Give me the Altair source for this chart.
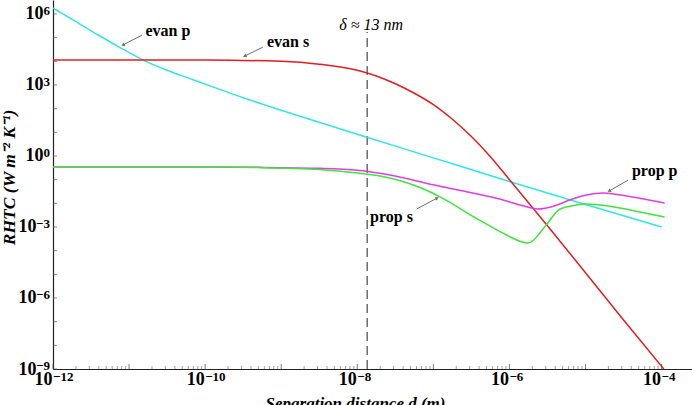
import altair as alt
import pandas as pd

# ---- data (log10 of values) ----
cyan_x = [-12, -11.7, -11.4, -11.1, -10.8, -10.5, -10.2, -9.9, -9.5, -9, -8, -7, -6, -5, -4]
cyan_y = [6.25, 5.68, 5.1, 4.55, 4.03, 3.62, 3.27, 2.92, 2.46, 1.93, 0.92, -0.08, -1.08, -2.05, -3.0]

red_x = [-12, -10, -9, -8.5, -8, -7.75, -7.5, -7.25, -7.0, -6.75, -6.5, -6.25, -6.0, -5.5, -5.0, -4.5, -3.97]
red_y = [4.05, 4.05, 4.0, 3.88, 3.62, 3.38, 3.05, 2.65, 2.17, 1.55, 0.82, -0.03, -1.0, -2.95, -4.93, -6.93, -9.0]

mag_x = [-12, -10, -9.3, -8.5, -8, -7.57, -7.0, -6.5, -6.13, -5.85, -5.63, -5.4, -5.2, -5.0, -4.77, -4.4, -3.96]
mag_y = [-0.47, -0.47, -0.48, -0.52, -0.6, -0.8, -1.22, -1.55, -1.82, -2.08, -2.24, -2.1, -1.85, -1.66, -1.56, -1.72, -1.99]

grn_x = [-12, -10, -9.3, -8.5, -8, -7.57, -7.09, -6.9, -6.4, -6.0, -5.85, -5.76, -5.68, -5.6, -5.5, -5.34, -5.17, -5.0, -4.68, -4.38, -3.96]
grn_y = [-0.47, -0.47, -0.49, -0.57, -0.72, -0.93, -1.45, -1.75, -2.7, -3.4, -3.62, -3.68, -3.55, -3.25, -2.85, -2.25, -2.1, -2.03, -2.12, -2.3, -2.58]

series_names = ["evan p", "evan s", "prop p", "prop s"]
series_colors = ["#2ee6e6", "#e41e1e", "#e43ce4", "#3ce63c"]

x_ticks = [-12, -10, -8, -6, -4]
y_ticks = [-9, -6, -3, 0, 3, 6]
x_decades = [-12, -11, -10, -9, -8, -7, -6, -5, -4]
minor_mult = [2, 3, 4, 5, 6, 7, 8, 9]
y_decades = list(range(-9, 7))

delta_x = 1.35e-8

# annotations: label, text position (log10), arrow start/end (log10), arrow angle
ann_label = ["evan p", "evan s", "prop s", "prop p"]
ann_tx = [-10.49, -8.91, -7.55, -4.09]
ann_ty = [5.28, 4.82, -2.58, -0.64]
arr_x1 = [-10.83, -9.24, -7.22, -4.44]
arr_y1 = [5.11, 4.60, -2.24, -1.02]
arr_x2 = [-11.08, -9.48, -6.95, -4.69]
arr_y2 = [4.69, 4.22, -1.78, -1.48]
arr_ang = [242, 243, 61, 240]

# ---- build tables ----
rows = []
for name, xs_, ys_ in zip(series_names, [cyan_x, red_x, mag_x, grn_x], [cyan_y, red_y, mag_y, grn_y]):
    for a, b in zip(xs_, ys_):
        rows.append({"series": name, "x": 10 ** a, "y": 10 ** b})
df = pd.DataFrame(rows)

ann = pd.DataFrame({
    "label": ann_label,
    "x": [10 ** v for v in ann_tx],
    "y": [10 ** v for v in ann_ty],
    "x1": [10 ** v for v in arr_x1],
    "y1": [10 ** v for v in arr_y1],
    "x2": [10 ** v for v in arr_x2],
    "y2": [10 ** v for v in arr_y2],
    "angle": arr_ang,
})

YMIN = 1e-9
XMIN = 1e-12


def exp_text(e):
    return str(e).replace("-", "\u2212")


xexp = pd.DataFrame({"x": [10.0 ** e for e in x_ticks], "y": [YMIN] * len(x_ticks),
                     "t": [exp_text(e) for e in x_ticks]})
yexp = pd.DataFrame({"x": [XMIN] * len(y_ticks), "y": [10.0 ** e for e in y_ticks],
                     "t": [exp_text(e) for e in y_ticks]})

xmaj = pd.DataFrame({"x": [10.0 ** e for e in x_decades], "y": [YMIN] * len(x_decades)})
xmin_vals = [m * 10.0 ** e for e in x_decades[:-1] for m in minor_mult]
xmin = pd.DataFrame({"x": xmin_vals, "y": [YMIN] * len(xmin_vals)})
ydec = pd.DataFrame({"x": [XMIN] * len(y_decades), "y": [10.0 ** e for e in y_decades]})

FONT = "Liberation Serif"

xscale = alt.Scale(type="log", domain=[XMIN, 10 ** -3.6], nice=False)
yscale = alt.Scale(type="log", domain=[YMIN, 10 ** 6.59], nice=False)

xaxis = alt.Axis(
    values=[10.0 ** e for e in x_ticks], labelExpr="'10'",
    labelFont=FONT, labelFontWeight="bold", labelFontSize=18, labelColor="black",
    labelAlign="right", labelOffset=-1,
    labelPadding=1, labelOverlap=False, labelFlush=False, ticks=False, grid=False,
    domainColor="#222", domainWidth=1.2,
    title="Separation distance d (m)", titleFont=FONT, titleFontStyle="italic",
    titleFontWeight="bold", titleFontSize=17, titleColor="black",
    titleX=302, titleY=39, titleAlign="center", titleBaseline="alphabetic",
)
yaxis = alt.Axis(
    values=[10.0 ** e for e in y_ticks], labelExpr="'10'",
    labelFont=FONT, labelFontWeight="bold", labelFontSize=18, labelColor="black",
    labelPadding={"condition": {"test": "datum.value < 0.5", "value": 17}, "value": 10},
    labelOverlap=False, labelFlush=False, ticks=False, grid=False,
    domainColor="#222", domainWidth=1.2,
    title="RHTC (W m\u207b\u00b2 K\u207b\u00b9)", titleFont=FONT, titleFontStyle="italic",
    titleFontWeight="bold", titleFontSize=17.5, titleColor="black",
    titleX=-44, titleY=177, titleAlign="center", titleBaseline="middle", titleAngle=270,
)


def X(f):
    return alt.X(f, type="quantitative", scale=xscale, axis=xaxis)


def Y(f):
    return alt.Y(f, type="quantitative", scale=yscale, axis=yaxis)


lines = alt.Chart(df).mark_line(strokeWidth=1.5, clip=True, interpolate="monotone").encode(
    x=X("x"), y=Y("y"),
    color=alt.Color("series:N", scale=alt.Scale(domain=series_names, range=series_colors), legend=None),
)

dash = alt.Chart(pd.DataFrame({"x": [delta_x], "y": [YMIN], "y2": [10 ** 5.24]})).mark_rule(
    strokeDash=[9, 5], color="#555555", strokeWidth=1.3
).encode(x=X("x"), y=Y("y"), y2="y2:Q")

delta_txt = alt.Chart(pd.DataFrame({"x": [delta_x], "y": [10 ** 5.53], "t": ["\u03b4 \u2248 13 nm"]})).mark_text(
    font=FONT, fontStyle="italic", fontSize=16, color="black", dx=4
).encode(x=X("x"), y=Y("y"), text="t:N")

labels = alt.Chart(ann).mark_text(font=FONT, fontWeight="bold", fontSize=16, color="black").encode(
    x=X("x"), y=Y("y"), text="label:N"
)

arrows = alt.Chart(ann).mark_rule(color="#6e6e6e", strokeWidth=1).encode(
    x=X("x1"), y=Y("y1"), x2="x2:Q", y2="y2:Q"
)
heads = alt.Chart(ann).mark_point(shape="triangle-up", filled=True, size=16, color="#6e6e6e", opacity=1).encode(
    x=X("x2"), y=Y("y2"), angle=alt.Angle("angle:Q", scale=None)
)

# exponent parts of the tick labels
x_exps = alt.Chart(xexp).mark_text(font=FONT, fontWeight="bold", fontSize=13, color="black",
                                   align="left", baseline="alphabetic", dy=12).encode(
    x=X("x"), y=Y("y"), text="t:N")
y_exps = alt.Chart(yexp).mark_text(font=FONT, fontWeight="bold", fontSize=13, color="black",
                                   align="right", baseline="alphabetic", dx=-3, dy=1).encode(
    x=X("x"), y=Y("y"), text="t:N")

# small inward ticks
xt_major = alt.Chart(xmaj).mark_tick(orient="vertical", size=5, thickness=1, color="#444", yOffset=-2.5).encode(
    x=X("x"), y=Y("y"))
xt_minor = alt.Chart(xmin).mark_tick(orient="vertical", size=3, thickness=1, color="#777", yOffset=-1.5).encode(
    x=X("x"), y=Y("y"))
yt = alt.Chart(ydec).mark_tick(orient="horizontal", size=4, thickness=1, color="#555", xOffset=2).encode(
    x=X("x"), y=Y("y"))

chart = alt.layer(dash, xt_minor, xt_major, yt, lines, delta_txt, labels, arrows, heads, x_exps, y_exps).properties(
    width=639, height=369,
    autosize=alt.AutoSizeParams(type="none"),
    padding={"left": 53, "top": 0, "right": 0, "bottom": 36},
    background="white",
).configure_view(stroke=None)

chart.save("out.html", embed_options={"renderer": "svg", "actions": False})
